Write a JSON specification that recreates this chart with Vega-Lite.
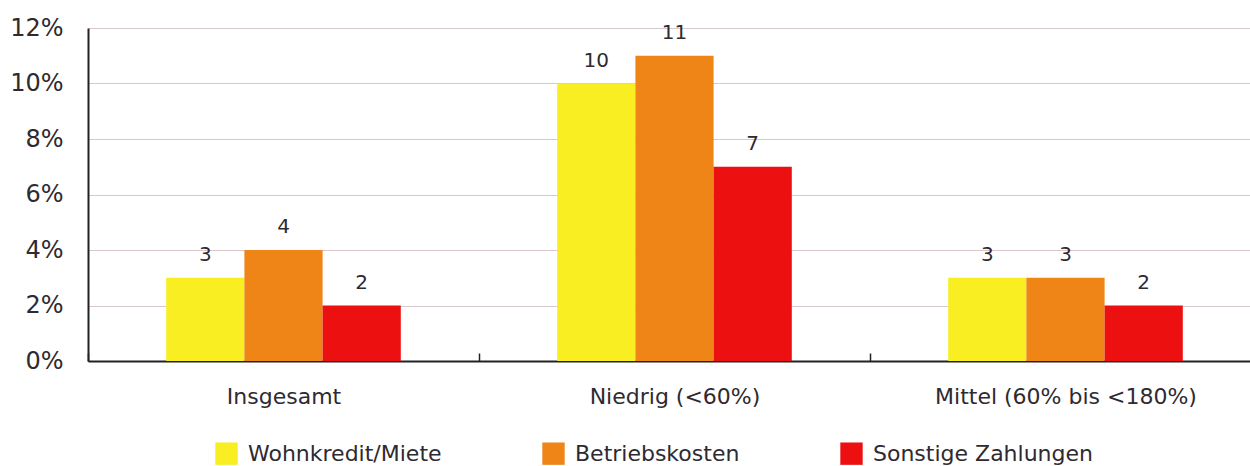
{
  "$schema": "https://vega.github.io/schema/vega-lite/v6.json",
  "width": 1162,
  "height": 333,
  "autosize": {"type": "none"},
  "padding": {"left": 88, "top": 28, "right": 0, "bottom": 105},
  "background": "white",
  "config": {
    "font": "DejaVu Sans",
    "view": {"stroke": null}
  },
  "data": {
    "values": [
      {"gruppe": "Insgesamt", "art": "Wohnkredit/Miete", "wert": 3},
      {"gruppe": "Insgesamt", "art": "Betriebskosten", "wert": 4},
      {"gruppe": "Insgesamt", "art": "Sonstige Zahlungen", "wert": 2},
      {"gruppe": "Niedrig (<60%)", "art": "Wohnkredit/Miete", "wert": 10},
      {"gruppe": "Niedrig (<60%)", "art": "Betriebskosten", "wert": 11},
      {"gruppe": "Niedrig (<60%)", "art": "Sonstige Zahlungen", "wert": 7},
      {"gruppe": "Mittel (60% bis <180%)", "art": "Wohnkredit/Miete", "wert": 3},
      {"gruppe": "Mittel (60% bis <180%)", "art": "Betriebskosten", "wert": 3},
      {"gruppe": "Mittel (60% bis <180%)", "art": "Sonstige Zahlungen", "wert": 2}
    ]
  },
  "encoding": {
    "x": {
      "field": "gruppe",
      "type": "nominal",
      "sort": ["Insgesamt", "Niedrig (<60%)", "Mittel (60% bis <180%)"],
      "scale": {"range": [0, 1173], "paddingInner": 0, "paddingOuter": 0},
      "axis": {
        "title": null,
        "labelAngle": 0,
        "labelFont": "DejaVu Sans",
        "labelFontSize": 22,
        "labelColor": "#2e2a30",
        "labelPadding": 33,
        "labelLimit": 500,
        "tickBand": "extent",
        "ticks": true,
        "tickSize": -8,
        "tickColor": "#222",
        "tickWidth": 1.5,
        "domainColor": "#222",
        "domainWidth": 2,
        "grid": false
      }
    },
    "xOffset": {
      "field": "art",
      "type": "nominal",
      "sort": ["Wohnkredit/Miete", "Betriebskosten", "Sonstige Zahlungen"],
      "scale": {"paddingInner": 0, "paddingOuter": 1}
    },
    "y": {
      "field": "wert",
      "type": "quantitative",
      "scale": {"domain": [0, 12]},
      "axis": {
        "title": null,
        "values": [0, 2, 4, 6, 8, 10, 12],
        "labelExpr": "datum.value + '%'",
        "labelFont": "DejaVu Sans",
        "labelFontSize": 24,
        "labelColor": "#2e2a30",
        "labelPadding": 25,
        "ticks": false,
        "domainColor": "#222",
        "domainWidth": 2,
        "gridColor": "#d9c7cc",
        "gridWidth": 1
      }
    }
  },
  "layer": [
    {
      "mark": {"type": "bar"},
      "encoding": {
        "color": {
          "field": "art",
          "type": "nominal",
          "sort": ["Wohnkredit/Miete", "Betriebskosten", "Sonstige Zahlungen"],
          "scale": {
            "domain": ["Wohnkredit/Miete", "Betriebskosten", "Sonstige Zahlungen"],
            "range": ["#f8ee22", "#ef8417", "#ec1010"]
          },
          "legend": {
            "title": null,
            "orient": "none",
            "direction": "horizontal",
            "legendX": 127,
            "legendY": 414,
            "symbolType": "square",
            "symbolSize": 500,
            "symbolStrokeWidth": 0,
            "symbolOpacity": 1,
            "labelFont": "DejaVu Sans",
            "labelFontSize": 22,
            "labelColor": "#2e2a30",
            "labelOffset": 10,
            "columnPadding": 100,
            "labelLimit": 500
          }
        }
      }
    },
    {
      "mark": {"type": "text", "baseline": "bottom", "dy": -13, "fontSize": 20, "font": "DejaVu Sans", "color": "#2e2a30"},
      "encoding": {
        "text": {"field": "wert", "type": "quantitative"}
      }
    }
  ]
}
